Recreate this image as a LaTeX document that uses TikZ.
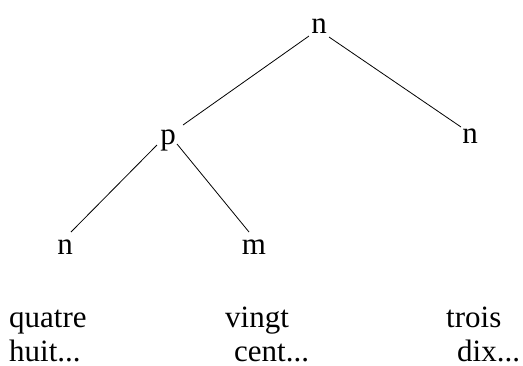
\documentclass[tikz,border=0pt]{standalone}
\usepackage{fontspec}
\setmainfont{Liberation Serif}
\begin{document}
\begin{tikzpicture}[x=1pt,y=-1pt,
  lbl/.style={inner sep=0pt,anchor=base,font=\fontsize{31}{34}\selectfont},
  word/.style={inner sep=0pt,anchor=base west,font=\fontsize{31}{34}\selectfont},
  edge/.style={line width=0.8pt}]
\useasboundingbox (0,0) rectangle (523,365);
% tree nodes
\node[lbl] (top) at (319,33) {n};
\node[lbl] (p)   at (168,144) {p};
\node[lbl] (rn)  at (470,143) {n};
\node[lbl] (ln)  at (65,254) {n};
\node[lbl] (m)   at (254,254) {m};
% branches
\draw[edge] ([shift={(-10,3)}]top.base) -- ([shift={(15,-19)}]p.base);
\draw[edge] ([shift={(10,4)}]top.base) -- ([shift={(-9,-16)}]rn.base);
\draw[edge] ([shift={(-11,1)}]p.base) -- ([shift={(6,-22)}]ln.base);
\draw[edge] ([shift={(9,0)}]p.base) -- ([shift={(-5,-22)}]m.base);
% word lists
\node[word] (w1) at (9,327) {quatre};
\node[word] (w2) at (9,361) {huit...};
\node[word] (w3) at (225,327) {vingt};
\node[word] (w4) at (234,361) {cent...};
\node[word] (w5) at (446,327) {trois};
\node[word] (w6) at (457,361) {dix...};
\end{tikzpicture}
\end{document}
